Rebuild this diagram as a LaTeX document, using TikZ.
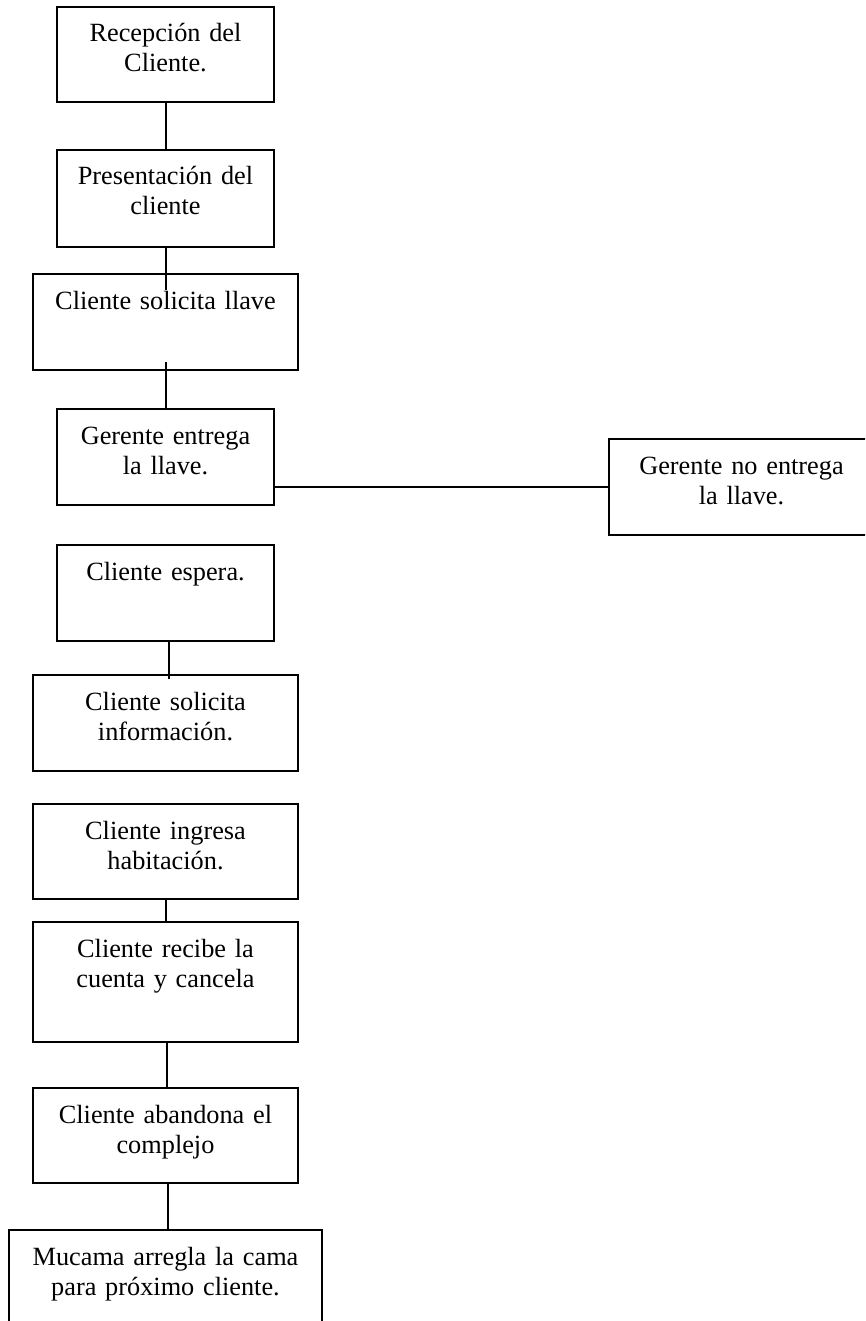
\documentclass[tikz,border=0pt]{standalone}
\usepackage{fontspec}
\setmainfont{Liberation Serif}
\usetikzlibrary{positioning}

\begin{document}
\begin{tikzpicture}[
		x=1pt, y=-1pt,
		node distance=40pt,
		box/.style={rectangle, draw, line width=2pt, inner sep=0pt, outer sep=0pt, text width=217pt, align=center, text height=35pt, text depth=61pt, font=\fontsize{26.3}{30}\selectfont},
		widebox/.style={box, text width=265pt},
		conn/.style={line width=2pt}
		]
		\clip (0,0) rectangle (865,1321);

		\node[box, anchor=north, text depth=60pt] (recepcion) at (165.5,7) {Recepción del\\Cliente.};
		\node[box, below=48pt of recepcion, text depth=62pt] (presentacion) {Presentación del\\cliente};
		\node[widebox, below=27pt of presentacion] (solicita) {Cliente solicita llave};
		\node[box, below=39pt of solicita] (entrega) {Gerente entrega\\la llave.};
		\node[widebox, right=335pt of entrega, yshift=-30pt] (noentrega) {Gerente no entrega\\la llave.};

		\node[box, below=40pt of entrega] (espera) {Cliente espera.};
		\node[widebox, below=34pt of espera] (informacion) {Cliente solicita\\información.};

		\node[widebox, below=33pt of informacion, text depth=60pt] (ingresa) {Cliente ingresa\\habitación.};
		\node[widebox, below=23pt of ingresa, text depth=85pt] (cuenta) {Cliente recibe la\\cuenta y cancela};
		\node[widebox, below=46pt of cuenta, text depth=60pt] (abandona) {Cliente abandona el\\complejo};
		\node[box, text width=313pt, below=47pt of abandona, text depth=120pt] (mucama) {Mucama arregla la cama\\para próximo cliente.};

		\draw[conn] (recepcion) -- (presentacion);
		\draw[conn] (presentacion.south) -- ([yshift=-16pt]solicita.north);
		\draw[conn] ([yshift=8pt]solicita.south) -- (entrega.north);
		\draw[conn] (noentrega.west -| entrega.east) -- (noentrega.west);
		\draw[conn] ([xshift=3pt]espera.south) -- ([xshift=3pt, yshift=-4pt]informacion.north);
		\draw[conn] (ingresa) -- (cuenta);
		\draw[conn] ([xshift=1pt]cuenta.south) -- ([xshift=1pt]abandona.north);
		\draw[conn] ([xshift=2pt]abandona.south) -- ([xshift=2pt]mucama.north);
	\end{tikzpicture}
\end{document}
